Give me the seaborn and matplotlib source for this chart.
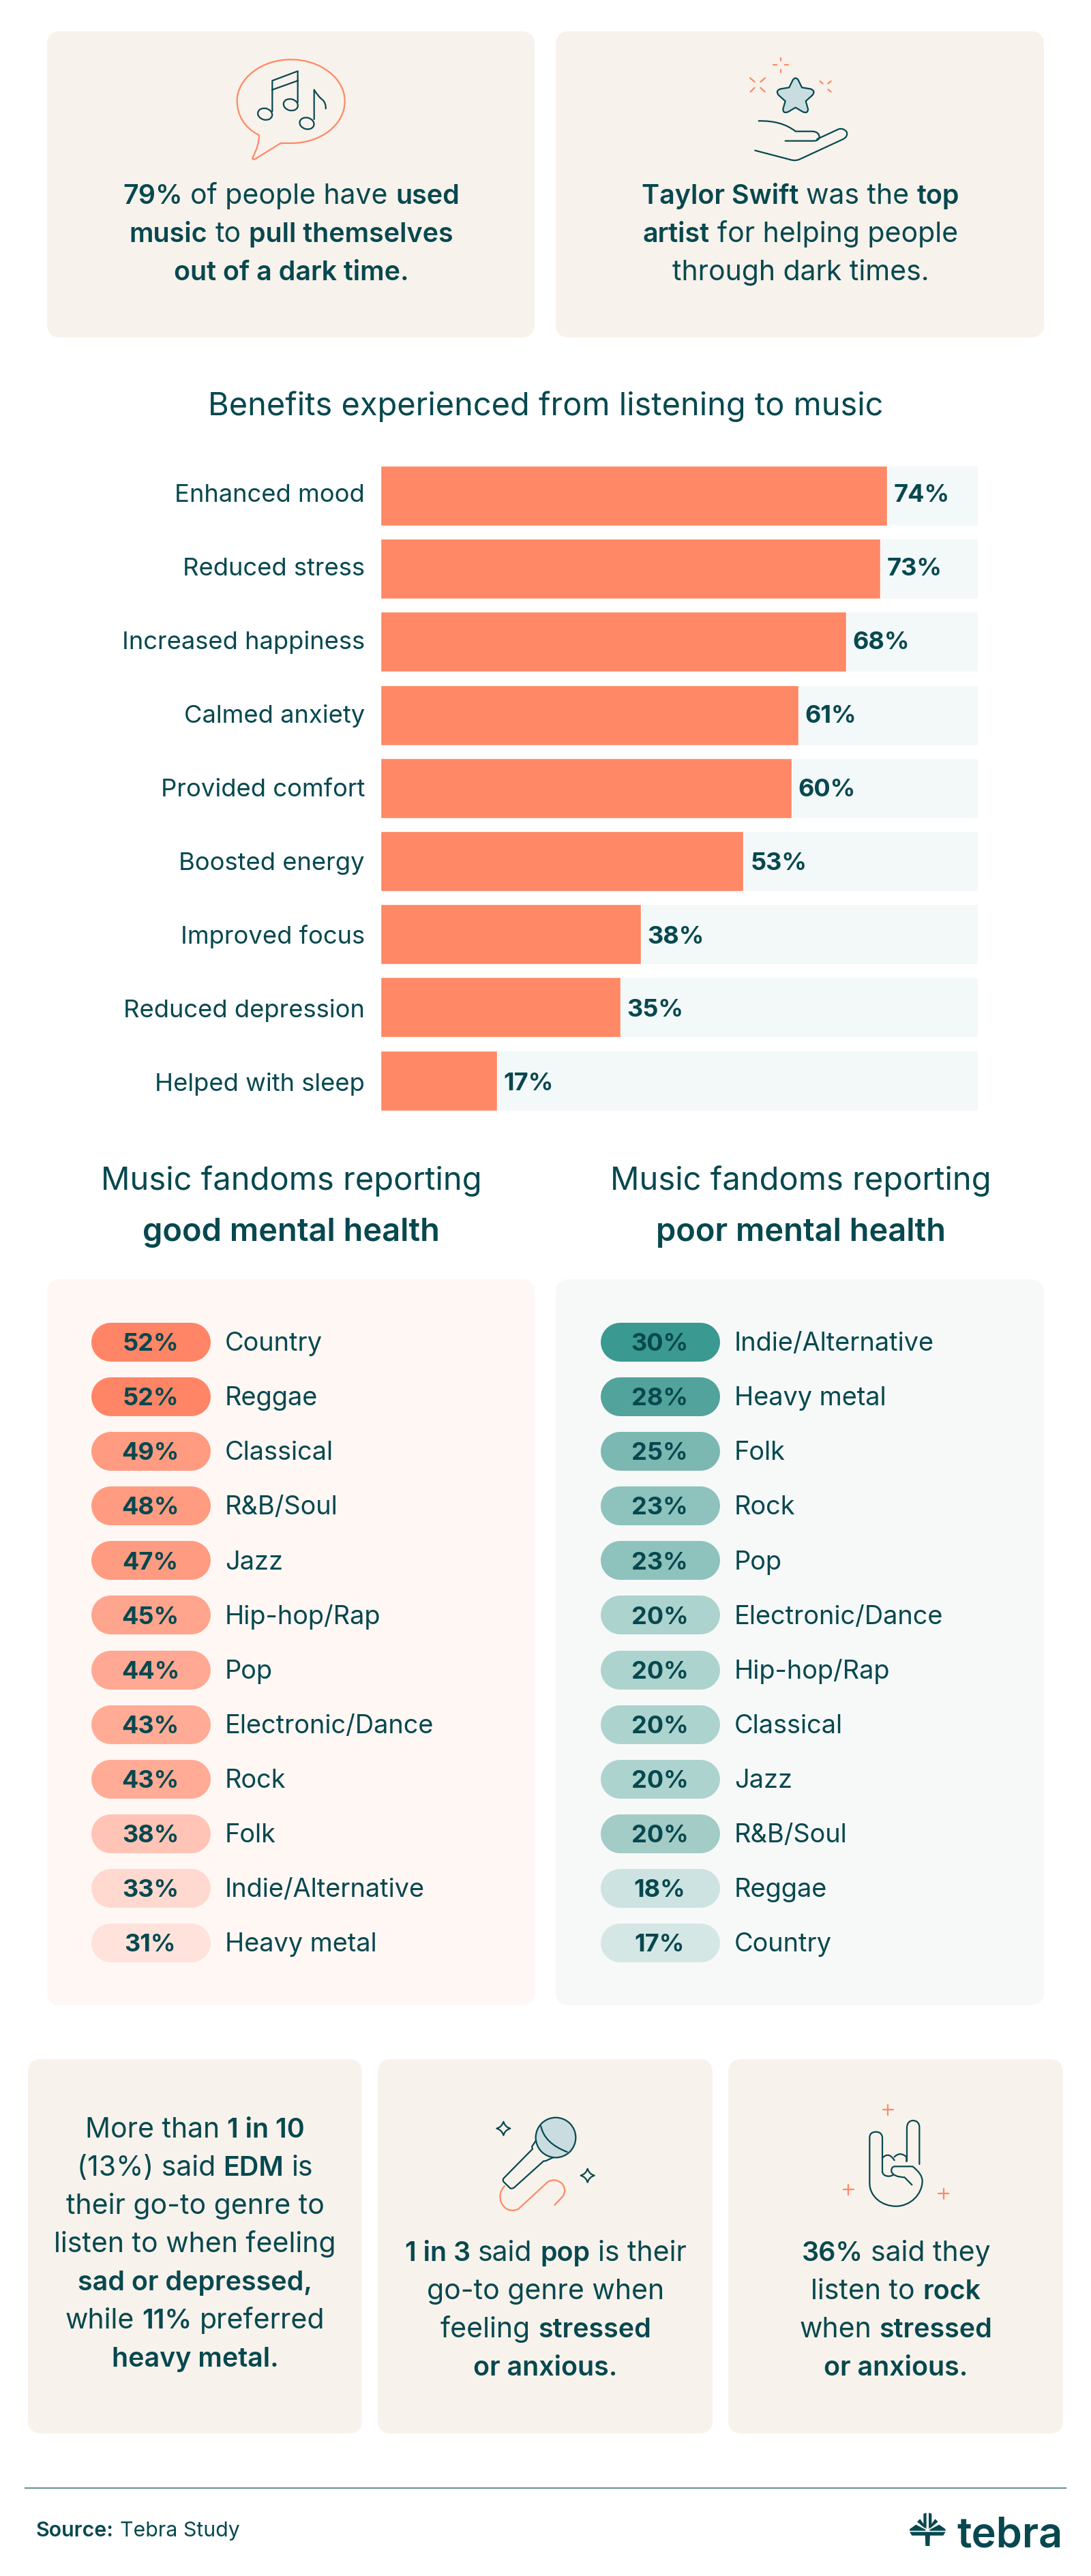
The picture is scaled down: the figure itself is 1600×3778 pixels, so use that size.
import re
import matplotlib
matplotlib.use("Agg")
import matplotlib.pyplot as plt
from matplotlib.patches import FancyBboxPatch, Ellipse, PathPatch
from matplotlib.path import Path
from matplotlib.transforms import ScaledTranslation
import pandas as pd
import seaborn as sns

# ---------- data ----------
benefits = ["Enhanced mood", "Reduced stress", "Increased happiness", "Calmed anxiety",
            "Provided comfort", "Boosted energy", "Improved focus", "Reduced depression",
            "Helped with sleep"]
benefit_values = [74, 73, 68, 61, 60, 53, 38, 35, 17]

good_genres = ["Country", "Reggae", "Classical", "R&B/Soul", "Jazz", "Hip-hop/Rap", "Pop",
               "Electronic/Dance", "Rock", "Folk", "Indie/Alternative", "Heavy metal"]
good_values = [52, 52, 49, 48, 47, 45, 44, 43, 43, 38, 33, 31]
good_colors = ["#FF8566", "#FF8566", "#FF9B80", "#FF9B80", "#FF9B80", "#FFA48D", "#FFA893",
               "#FFAB96", "#FFAB96", "#FFC4B5", "#FFD9D0", "#FFE2DB"]

poor_genres = ["Indie/Alternative", "Heavy metal", "Folk", "Rock", "Pop", "Electronic/Dance",
               "Hip-hop/Rap", "Classical", "Jazz", "R&B/Soul", "Reggae", "Country"]
poor_values = [30, 28, 25, 23, 23, 20, 20, 20, 20, 20, 18, 17]
poor_colors = ["#3A9990", "#51A39B", "#7BB8B2", "#8EC2BD", "#8EC2BD", "#ADD3CE", "#ADD3CE",
               "#ADD3CE", "#ADD3CE", "#A3CCC7", "#CDE3E1", "#D4E7E4"]

card1_lines = ["**79%** of people have **used**", "**music** to **pull themselves**", "**out of a dark time.**"]
card2_lines = ["**Taylor Swift** was the **top**", "**artist** for helping people", "through dark times."]
card3_lines = ["More than **1 in 10**", "(13%) said **EDM** is", "their go-to genre to", "listen to when feeling",
               "**sad or depressed,**", "while **11%** preferred", "**heavy metal.**"]
card4_lines = ["**1 in 3** said **pop** is their", "go-to genre when", "feeling **stressed**", "**or anxious.**"]
card5_lines = ["**36%** said they", "listen to **rock**", "when **stressed**", "**or anxious.**"]

# ---------- style ----------
W, H = 1600, 3778
INK = "#07484F"
CORAL = "#FF8866"
BEIGE = "#F7F2EB"
TRACK = "#F3F8F8"
BOLD = "semibold"
sns.set_theme(style="white")
plt.rcParams["font.family"] = ["Inter", "DejaVu Sans"]
plt.rcParams["text.color"] = INK

fig = plt.figure(figsize=(W / 100, H / 100), dpi=100, facecolor="white")
bg = fig.add_axes([0, 0, 1, 1], zorder=0)
bg.set_xlim(0, W)
bg.set_ylim(H, 0)
bg.axis("off")
top = fig.add_axes([0, 0, 1, 1], zorder=5)
top.set_xlim(0, W)
top.set_ylim(H, 0)
top.axis("off")
top.patch.set_alpha(0)
renderer = fig.canvas.get_renderer()


def px_axes(x0, y0, x1, y1, z=2):
    a = fig.add_axes([x0 / W, 1 - y1 / H, (x1 - x0) / W, (y1 - y0) / H], zorder=z)
    a.patch.set_alpha(0)
    return a


def card(x0, y0, x1, y1, color, r=20):
    bg.add_patch(FancyBboxPatch((x0, y0), x1 - x0, y1 - y0, boxstyle=f"round,pad=0,rounding_size={r}",
                                fc=color, ec="none"))


def text_w(s, size, weight):
    t = top.text(0, 0, s, fontsize=size, fontweight=weight)
    w = t.get_window_extent(renderer).width
    t.remove()
    return w


def rich(xc, base, line, size, ha="center", bold_size=None):
    bold_size = bold_size or size
    parts = [(p.strip(), i % 2 == 1) for i, p in enumerate(re.split(r"\*\*", line)) if p.strip()]
    gap = text_w("x x", size, "normal") - text_w("xx", size, "normal")
    widths = [text_w(p, bold_size, BOLD) if b else text_w(p, size, "normal") for p, b in parts]
    total = sum(widths) + gap * (len(parts) - 1)
    x = xc - total / 2 if ha == "center" else xc
    for (p, b), w in zip(parts, widths):
        top.text(x, base, p, fontsize=bold_size if b else size, fontweight=BOLD if b else "normal",
                 ha="left", va="baseline", color=INK)
        x += w + gap


def block(xc, base, lines, step=56):
    for i, l in enumerate(lines):
        rich(xc, base + i * step, l, 29.5, bold_size=28.4)


TOK = re.compile(r"[MLQCZ]|-?\d+\.?\d*")


def shape(d, ox, oy, ec=INK, fc="none", lw=1.6, s=3.0, z=6):
    toks = TOK.findall(d)
    verts, codes = [], []
    i = 0
    n = {"M": 1, "L": 1, "Q": 2, "C": 3}
    code = {"M": Path.MOVETO, "L": Path.LINETO, "Q": Path.CURVE3, "C": Path.CURVE4}
    while i < len(toks):
        c = toks[i]
        i += 1
        if c == "Z":
            verts.append((0, 0))
            codes.append(Path.CLOSEPOLY)
            continue
        for _ in range(n[c]):
            verts.append((ox + float(toks[i]) / s, oy + float(toks[i + 1]) / s))
            codes.append(code[c])
            i += 2
    top.add_patch(PathPatch(Path(verts, codes), fc=fc, ec=ec, lw=lw, capstyle="round", joinstyle="round", zorder=z))


def oval(cx, cy, w, h, ang, ox, oy):
    top.add_patch(Ellipse((ox + cx / 3, oy + cy / 3), w / 3, h / 3, angle=ang, fc="none", ec=INK, lw=1.6, zorder=6))


def sparkle(cx, cy, r, ox, oy):
    k = 0.22 * r
    shape(f"M{cx} {cy-r} Q{cx+k} {cy-k} {cx+r} {cy} Q{cx+k} {cy+k} {cx} {cy+r} "
          f"Q{cx-k} {cy+k} {cx-r} {cy} Q{cx-k} {cy-k} {cx} {cy-r} Z", ox, oy)


# ---------- top cards ----------
card(69, 46, 784, 495, BEIGE)
card(815, 46, 1531, 495, BEIGE)
block(427, 299, card1_lines)
block(1174, 299, card2_lines)

# music bubble
ox, oy = 300, 60
shape("M240 415 C170 380 143 320 143 265 C143 165 250 82 380 82 C510 82 617 165 617 265 "
      "C617 370 510 450 380 450 L335 450 L222 520 Q208 525 212 512 Q240 460 240 415 Z", ox, oy, ec=CORAL)
shape("M298 310 L298 175 L410 133 L410 270 M298 215 L410 175", ox, oy)
shape("M482 345 L482 215 Q500 245 520 260 Q535 275 533 298", ox, oy)
oval(266, 322, 64, 50, 15, ox, oy)
oval(379, 281, 64, 50, 15, ox, oy)
oval(450, 363, 64, 50, 15, ox, oy)

# star in hand
ox, oy = 1060, 60
shape("M292 205 L308 172 Q320 155 332 172 L348 205 L385 211 Q410 218 395 238 L365 265 L375 300 "
      "Q375 322 352 312 L320 293 L288 312 Q265 322 265 300 L275 265 L245 238 Q230 218 255 211 Z",
      ox, oy, fc="#C9DDE0")
shape("M158 352 Q260 350 320 398 L395 398 Q425 400 425 425 Q420 440 400 440 L275 440", ox, oy)
shape("M415 432 L510 388 Q530 382 545 400 Q552 420 530 432 L340 520 Q320 530 295 522 L142 482", ox, oy)
for a, b, c, d in [(120, 163, 140, 180), (186, 163, 166, 180), (122, 224, 140, 206), (185, 224, 166, 206),
                   (427, 177, 440, 188), (476, 177, 463, 188), (476, 224, 463, 214),
                   (255, 74, 255, 86), (255, 125, 255, 137), (222, 106, 236, 106), (273, 106, 287, 106)]:
    shape(f"M{a} {b} L{c} {d}", ox, oy, ec=CORAL)

# ---------- benefits bar chart ----------
rich(800, 609, "Benefits experienced from listening to music", 33.8)
bar_df = pd.DataFrame({"benefit": benefits, "value": benefit_values, "track": [87.2] * len(benefits)})
bar_ax = px_axes(558, 673.4, 1434, 1638.2)
sns.barplot(data=bar_df, y="benefit", x="track", color=TRACK, width=0.82, saturation=1, ax=bar_ax)
sns.barplot(data=bar_df, y="benefit", x="value", color=CORAL, width=0.82, saturation=1, ax=bar_ax)
bar_ax.set_xlim(0, 87.2)
bar_ax.set_ylim(8.5, -0.5)
bar_ax.set(xlabel="", ylabel="")
bar_ax.xaxis.set_visible(False)
sns.despine(ax=bar_ax, left=True, bottom=True)
bar_ax.tick_params(axis="y", length=0, pad=16.6, labelsize=26.2, colors=INK)
# the labels of the reference run on a slightly wider step than its bars
label_shift = [-3.9 + 0.7 * i for i in range(len(benefits))]
for lab, dy in zip(bar_ax.get_yticklabels(), label_shift):
    lab.set_va("center_baseline")
    lab.set_transform(lab.get_transform() + ScaledTranslation(0, -dy / 100, fig.dpi_scale_trans))
anns = bar_ax.bar_label(bar_ax.containers[1], labels=[f"{v}%" for v in benefit_values], padding=7,
                        fontsize=26, fontweight="bold", color=INK)
for ann, dy in zip(anns, label_shift):
    ann.set_va("center_baseline")
    ann.xyann = (ann.xyann[0], -dy * 0.72)

# ---------- fandom panels ----------
card(69, 1876, 784, 2941, "#FFF7F4")
card(815, 1876, 1531, 2941, "#F7F9F8")
rich(427, 1745, "Music fandoms reporting", 33.9)
rich(427, 1820, "**good mental health**", 33.9)
rich(1174, 1745, "Music fandoms reporting", 33.9)
rich(1174, 1820, "**poor mental health**", 33.9)


def pills(x0, genres, values, colors):
    n = len(genres)
    a = px_axes(x0, 1968 - 40, x0 + 600, 2849 + 40, z=3)
    a.set_xlim(0, 600)
    a.set_ylim(n - 0.5, -0.5)
    a.axis("off")
    a.hlines(range(n), 28.5, 175 - 28.5, colors=colors, linewidth=57 * 0.72, capstyle="round")
    for i, (g, v) in enumerate(zip(genres, values)):
        a.annotate(f"{v}%", (87.5, i), xytext=(0, -9.5), textcoords="offset points", ha="center", va="baseline",
                   fontsize=26, fontweight="bold", color=INK)
        a.annotate(g, (197, i), xytext=(0, -9.5), textcoords="offset points", ha="left", va="baseline",
                   fontsize=27.3, color=INK)


pills(133, good_genres, good_values, good_colors)
pills(880, poor_genres, poor_values, poor_colors)

# ---------- bottom cards ----------
card(41, 3020, 531, 3569, BEIGE)
card(554, 3020, 1045, 3569, BEIGE)
card(1068, 3020, 1559, 3569, BEIGE)
block(286, 3135, card3_lines)
block(800, 3316, card4_lines)
block(1314, 3316, card5_lines)

# microphone
ox, oy = 700, 3080
top.add_patch(Ellipse((ox + 345 / 3, oy + 165 / 3), 176 / 3, 176 / 3, fc="#C9DDE0", ec=INK, lw=1.6, zorder=6))
shape("M280 115 Q295 190 395 228", ox, oy)
shape("M258 178 L240 205 L243 215 L115 345 Q110 355 118 362 L145 388 Q152 392 162 385 L292 268 L300 268 L335 252",
      ox, oy)
shape("M120 378 Q90 410 105 450 Q130 500 180 480 L310 360 Q345 340 375 370 Q395 400 375 425 L340 462", ox, oy, ec=CORAL)
sparkle(115, 125, 30, ox, oy)
sparkle(485, 332, 30, ox, oy)

# rock hand
ox, oy = 1200, 3070
shape("M282 345 L282 195 Q280 170 254 170 Q226 170 226 195 L226 395 C226 455 280 497 342 497 "
      "C405 497 458 445 458 385 Q458 355 415 322 L335 322 Q320 325 322 345 Q330 368 380 370 L412 403", ox, oy)
shape("M282 285 Q310 255 335 295 M335 280 Q360 255 388 280 L388 300", ox, oy)
shape("M282 345 Q285 365 310 365 Q325 365 330 358", ox, oy)
shape("M390 298 L390 150 Q392 120 418 120 Q445 122 445 150 L445 312", ox, oy)
for cx, cy in [(307, 73), (133, 424), (551, 442)]:
    shape(f"M{cx-22} {cy} L{cx+22} {cy} M{cx} {cy-22} L{cx} {cy+22}", ox, oy, ec=CORAL)

# ---------- footer ----------
top.plot([36, 1564], [3649, 3649], color="#5F8F92", lw=1.4, solid_capstyle="butt")
rich(53, 3720, "**Source:** Tebra Study", 21.8, ha="left")

ox, oy = 1300, 3660
logo = ["M170 170 L192 170 L190 222 L172 222 Z", "M102 160 L260 160 L250 176 L112 176 Z",
        "M163 80 L176 76 L176 148 L163 130 Z", "M199 80 L186 76 L186 148 L199 130 Z",
        "M135 115 L148 103 L170 135 L170 145 Z", "M227 115 L214 103 L192 135 L192 145 Z",
        "M102 148 L130 128 L172 150 L172 155 L102 155 Z", "M260 148 L232 128 L190 150 L190 155 L260 155 Z"]
for d in logo:
    shape(d, ox, oy, ec="none", fc=INK, lw=0)
top.text(1403, 3735, "tebra", fontsize=44, family="Inter", fontweight="semibold", ha="left", va="baseline", color=INK)

fig.savefig("out.png", dpi=100, facecolor="white")
